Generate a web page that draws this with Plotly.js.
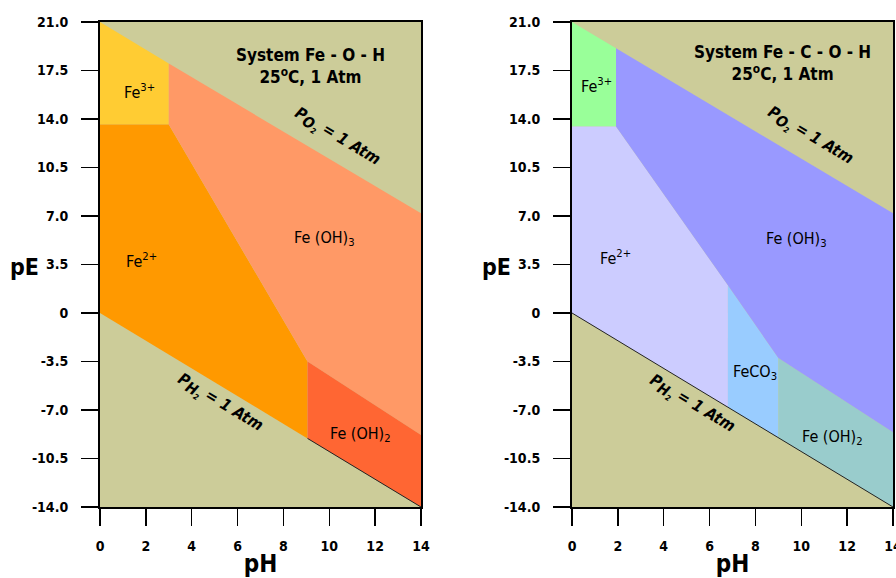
<!DOCTYPE html>
<html>
<head>
<meta charset="utf-8">
<script src="https://cdn.plot.ly/plotly-3.0.1.min.js"></script>
<style>html,body{margin:0;padding:0;background:#fff;}#chart{width:896px;height:578px;}</style>
</head>
<body>
<div id="chart"></div>
<script>
// ---- axis ticks ----
const pHTicks = [0, 2, 4, 6, 8, 10, 12, 14];
const pHTopTicks = [2.2, 4.2, 6.2, 8.2, 10.2, 12];
const pETicks = [21, 17.5, 14, 10.5, 7, 3.5, 0, -3.5, -7, -10.5, -14];
const pETickText = ['21.0', '17.5', '14.0', '10.5', '7.0', '3.5', '0', '-3.5', '-7.0', '-10.5', '-14.0'];

// ---- System Fe-O-H (left) region vertices ----
const fohFe3_pH = [0, 3.0, 3.0, 0];
const fohFe3_pE = [21, 18.0, 13.6, 13.6];
const fohFe2_pH = [0, 3.0, 9.05, 9.05, 0];
const fohFe2_pE = [13.6, 13.6, -3.5, -9.05, 0];
const fohFeOH3_pH = [3.0, 14, 14, 9.05, 3.0];
const fohFeOH3_pE = [18.0, 7.2, -8.8, -3.5, 13.6];
const fohFeOH2_pH = [9.05, 14, 14, 9.05];
const fohFeOH2_pE = [-3.5, -8.8, -14, -9.05];
const fohH2Line_pH = [9.05, 14];
const fohH2Line_pE = [-9.05, -14];

// ---- System Fe-C-O-H (right) region vertices ----
const fcohFe3_pH = [0, 1.92, 1.92, 0];
const fcohFe3_pE = [21, 19.1, 13.45, 13.45];
const fcohFe2_pH = [0, 1.92, 6.8, 6.8, 0];
const fcohFe2_pE = [13.45, 13.45, 2.0, -6.8, 0];
const fcohFeCO3_pH = [6.8, 9.0, 9.0, 6.8];
const fcohFeCO3_pE = [2.0, -3.25, -9.0, -6.8];
const fcohFeOH2_pH = [9.0, 14, 14, 9.0];
const fcohFeOH2_pE = [-3.25, -8.6, -14, -9.0];
const fcohFeOH3_pH = [1.92, 14, 14, 9.0, 6.8, 1.92];
const fcohFeOH3_pE = [19.1, 7.2, -8.6, -3.25, 2.0, 13.45];
const fcohH2Line_pH = [0, 14];
const fcohH2Line_pE = [0, -14];

const FONT = '"DejaVu Sans Condensed", "DejaVu Sans", sans-serif';

function region(x, y, color, xa, ya, name) {
  return {type: 'scatter', mode: 'lines', x: x, y: y, fill: 'toself', fillcolor: color,
    line: {width: 0, color: color}, xaxis: xa, yaxis: ya, name: name, hoverinfo: 'name', showlegend: false};
}
function line(x, y, xa, ya) {
  return {type: 'scatter', mode: 'lines', x: x, y: y, line: {width: 1, color: '#222'},
    xaxis: xa, yaxis: ya, hoverinfo: 'skip', showlegend: false};
}

const traces = [
  region(fohFe3_pH, fohFe3_pE, '#FFCC33', 'x', 'y', 'Fe3+'),
  region(fohFe2_pH, fohFe2_pE, '#FF9900', 'x', 'y', 'Fe2+'),
  region(fohFeOH3_pH, fohFeOH3_pE, '#FF9966', 'x', 'y', 'Fe(OH)3'),
  region(fohFeOH2_pH, fohFeOH2_pE, '#FF6633', 'x', 'y', 'Fe(OH)2'),
  line(fohH2Line_pH, fohH2Line_pE, 'x', 'y'),
  region(fcohFe3_pH, fcohFe3_pE, '#99FF99', 'x2', 'y2', 'Fe3+'),
  region(fcohFe2_pH, fcohFe2_pE, '#CCCCFF', 'x2', 'y2', 'Fe2+'),
  region(fcohFeCO3_pH, fcohFeCO3_pE, '#99CCFF', 'x2', 'y2', 'FeCO3'),
  region(fcohFeOH2_pH, fcohFeOH2_pE, '#99CCCC', 'x2', 'y2', 'Fe(OH)2'),
  region(fcohFeOH3_pH, fcohFeOH3_pE, '#9999FF', 'x2', 'y2', 'Fe(OH)3'),
  line(fcohH2Line_pH, fcohH2Line_pE, 'x2', 'y2')
];

const W = 896, H = 578;
const yDom = [1 - 507 / H, 1 - 22 / H];
const xDomL = [100 / W, 421 / W];
const xDomR = [572 / W, 893 / W];

const tickFont = {family: FONT, size: 14, color: '#000', weight: 'bold'};
const titleFont = {family: FONT, size: 24, color: '#000', weight: 'bold'};

function xMain(dom, anchor) {
  return {domain: dom, anchor: anchor, range: [0, 14], tickmode: 'array', tickvals: pHTicks,
    ticks: 'outside', ticklen: 17, tickwidth: 1.5, tickcolor: '#000', tickfont: tickFont,
    ticklabelstandoff: 8, ticklabeloverflow: 'allow', showline: true, linecolor: '#000',
    linewidth: 2, mirror: true, showgrid: false, zeroline: false, fixedrange: true,
    title: {text: 'pH', font: titleFont, standoff: 2}};
}
function yMain(anchor) {
  return {domain: yDom, anchor: anchor, range: [-14, 21], tickmode: 'array', tickvals: pETicks,
    ticktext: pETickText, ticks: 'outside', ticklen: 17, tickwidth: 1.5, tickcolor: '#000',
    tickfont: tickFont, ticklabelstandoff: 10, showline: true, linecolor: '#000', linewidth: 2,
    mirror: true, showgrid: false, zeroline: false, fixedrange: true};
}
function xTop(dom, over, anchor) {
  return {domain: dom, overlaying: over, anchor: anchor, side: 'top', range: [0, 14],
    tickmode: 'array', tickvals: pHTopTicks, ticks: 'inside', ticklen: 15, tickwidth: 1.5,
    tickcolor: '#000', showticklabels: false, showgrid: false, zeroline: false, showline: false,
    fixedrange: true};
}
function yRight(over, anchor) {
  return {domain: yDom, overlaying: over, anchor: anchor, side: 'right', range: [-14, 21],
    tickmode: 'array', tickvals: pETicks, ticks: 'inside', ticklen: 13, tickwidth: 1.5,
    tickcolor: '#000', showticklabels: false, showgrid: false, zeroline: false, showline: false,
    fixedrange: true};
}

const regionFont = {family: FONT, size: 16, color: '#000'};
const sysFont = {family: FONT, size: 17, color: '#000', weight: 'bold'};
const pFont = {family: FONT, size: 16, color: '#000', weight: 'bold', style: 'italic'};
const pEFont = {family: FONT, size: 23, color: '#000', weight: 'bold'};

function ann(text, x, y, xr, yr, font, angle) {
  return {text: text, x: x, y: y, xref: xr, yref: yr, showarrow: false, font: font,
    textangle: angle || 0, xanchor: 'center', yanchor: 'middle'};
}
function pressure(gas) {
  return 'P<sub><span style="font-size:15px">' + gas + '</span></sub><sub><sub>2</sub></sub> = 1 Atm';
}

const annotations = [
  // y-axis titles (drawn upright, as in the reference)
  ann('pE', 24 / W, 1 - 267 / H, 'paper', 'paper', pEFont),
  ann('pE', 496 / W, 1 - 267 / H, 'paper', 'paper', pEFont),

  ann('System Fe - O - H<br>25<sup>o</sup>C, 1 Atm', 9.16, 17.8, 'x', 'y', sysFont),
  ann(pressure('O'), 10.34, 12.7, 'x', 'y', pFont, 31),
  ann(pressure('H'), 5.23, -6.5, 'x', 'y', pFont, 31),
  ann('Fe<sup>3+</sup>', 1.74, 15.95, 'x', 'y', regionFont),
  ann('Fe<sup>2+</sup>', 1.83, 3.8, 'x', 'y', regionFont),
  ann('Fe (OH)<sub>3</sub>', 9.81, 5.4, 'x', 'y', regionFont),
  ann('Fe (OH)<sub>2</sub>', 11.38, -8.8, 'x', 'y', regionFont),

  ann('System Fe - C - O - H<br>25<sup>o</sup>C, 1 Atm', 9.16, 18.05, 'x2', 'y2', sysFont),
  ann(pressure('O'), 10.38, 12.77, 'x2', 'y2', pFont, 31),
  ann(pressure('H'), 5.23, -6.57, 'x2', 'y2', pFont, 31),
  ann('Fe<sup>3+</sup>', 1.09, 16.45, 'x2', 'y2', regionFont),
  ann('Fe<sup>2+</sup>', 1.88, 3.97, 'x2', 'y2', regionFont),
  ann('Fe (OH)<sub>3</sub>', 9.81, 5.27, 'x2', 'y2', regionFont),
  ann('FeCO<sub>3</sub>', 7.98, -4.26, 'x2', 'y2', regionFont),
  ann('Fe (OH)<sub>2</sub>', 11.38, -8.95, 'x2', 'y2', regionFont)
];

const layout = {
  width: W, height: H,
  margin: {l: 0, r: 0, t: 0, b: 0, pad: 0},
  paper_bgcolor: '#FFFFFF',
  plot_bgcolor: '#CCCC99',
  showlegend: false,
  font: {family: FONT, color: '#000'},
  xaxis: xMain(xDomL, 'y'),
  yaxis: yMain('x'),
  xaxis2: xMain(xDomR, 'y2'),
  yaxis2: yMain('x2'),
  xaxis3: xTop(xDomL, 'x', 'y'),
  yaxis3: yRight('y', 'x'),
  xaxis4: xTop(xDomR, 'x2', 'y2'),
  yaxis4: yRight('y2', 'x2'),
  annotations: annotations
};

Plotly.newPlot('chart', traces, layout, {displayModeBar: false, staticPlot: true});
</script>
</body>
</html>
